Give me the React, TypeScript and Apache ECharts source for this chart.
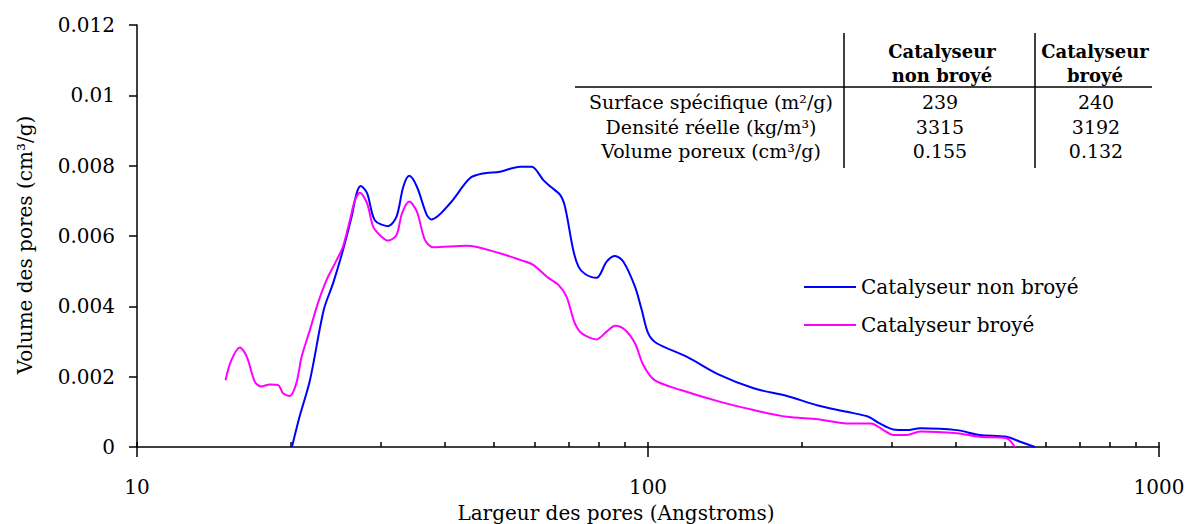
import React, { useEffect, useRef } from "react";
import * as echarts from "echarts";

const FONT = "DejaVu Serif";

const seriesNames = ["Catalyseur non broyé", "Catalyseur broyé"];

const blueX = [20.1, 20.8, 21.8, 23.2, 24.2, 25.3, 26.3, 26.9, 27.4, 28.2, 29.2, 31.0, 32.2, 33.2, 34.1, 35.3, 36.9, 37.7, 41.0, 44.8, 47.6, 51.3, 56.2, 59.2, 62.4, 64.5, 67.3, 68.8, 71.4, 73.1, 75.3, 79.3, 83.0, 86.2, 89.5, 94.3, 97.2, 100.1, 104, 119, 138, 161, 187, 215, 245, 270, 284, 302, 321, 341, 402, 446, 503, 535, 572];
const blueY = [0, 0.00086, 0.0019, 0.0039, 0.00466, 0.0056, 0.00655, 0.00721, 0.00742, 0.00722, 0.00645, 0.00628, 0.00655, 0.0074, 0.00771, 0.0074, 0.0066, 0.00647, 0.00693, 0.00764, 0.00778, 0.00783, 0.00797, 0.00797, 0.00759, 0.0074, 0.00717, 0.00683, 0.0056, 0.00513, 0.00492, 0.00481, 0.00527, 0.00543, 0.00527, 0.00456, 0.0039, 0.00323, 0.00295, 0.00257, 0.00205, 0.00167, 0.00145, 0.00118, 0.001, 0.00086, 0.00067, 0.0005, 0.00048, 0.00053, 0.00048, 0.00034, 0.00029, 0.00015, 0];

const pinkX = [14.9, 15.3, 15.9, 16.4, 17.0, 17.5, 18.2, 18.9, 19.3, 19.9, 20.5, 21.0, 21.8, 22.6, 23.5, 24.6, 25.3, 26.1, 26.7, 27.3, 28.2, 29.0, 30.1, 31.0, 32.2, 33.0, 34.1, 35.3, 36.6, 38.0, 44.2, 51.3, 56.2, 59.6, 63.4, 66.8, 69.3, 71.9, 74.2, 79.3, 83.0, 86.2, 90.2, 94.3, 97.9, 103, 116, 138, 161, 187, 215, 245, 273, 289, 302, 321, 341, 402, 446, 503, 522];
const pinkY = [0.0019, 0.00247, 0.00283, 0.00257, 0.00186, 0.00172, 0.00178, 0.00176, 0.00153, 0.00145, 0.00181, 0.00257, 0.00333, 0.00409, 0.00475, 0.00532, 0.0057, 0.00645, 0.00702, 0.00723, 0.00693, 0.00626, 0.00598, 0.00587, 0.00603, 0.00664, 0.00698, 0.00669, 0.00589, 0.00568, 0.00572, 0.00551, 0.00532, 0.00518, 0.00484, 0.00461, 0.00427, 0.00352, 0.00323, 0.00306, 0.00328, 0.00345, 0.00333, 0.00295, 0.00233, 0.0019, 0.00162, 0.00129, 0.00105, 0.00086, 0.00079, 0.00067, 0.00067, 0.00048, 0.00034, 0.00034, 0.00044, 0.00039, 0.00029, 0.00025, 0];

const majorTicks = [10, 100, 1000];
const minorTicks = [10, 20, 30, 40, 50, 60, 70, 80, 90, 100, 200, 300, 400, 500, 600, 700, 800, 900, 1000];

const tableHeaders = [["Catalyseur", "non broyé"], ["Catalyseur", "broyé"]];
const tableRowLabels = ["Surface spécifique (m²/g)", "Densité réelle (kg/m³)", "Volume poreux (cm³/g)"];
const tableCol1 = ["239", "3315", "0.155"];
const tableCol2 = ["240", "3192", "0.132"];

const xTitle = "Largeur des pores (Angstroms)";
const yTitle = "Volume des pores (cm³/g)";

export default function App() {
  const ref = useRef<HTMLDivElement>(null);
  useEffect(() => {
    if (!ref.current) return;
    const chart = echarts.init(ref.current, null, { renderer: "svg" });
    const txt = (text: string, x: number, y: number, opts: any = {}) => ({
      type: "text",
      x,
      y,
      rotation: opts.rotation || 0,
      style: {
        text,
        fontFamily: FONT,
        fontSize: opts.fontSize || 19,
        fontWeight: opts.fontWeight || "normal",
        fill: "#000",
        align: opts.align || "center",
        verticalAlign: "middle",
      },
    });
    const ln = (x1: number, y1: number, x2: number, y2: number) => ({
      type: "line",
      shape: { x1, y1, x2, y2 },
      style: { stroke: "#000", lineWidth: 1.5 },
    });
    const rowY = [102, 127, 151];
    const graphic: any[] = [
      ln(575, 87, 1152, 87),
      ln(844, 33, 844, 168),
      ln(1035, 33, 1035, 168),
      txt(tableHeaders[0][0], 942, 51, { fontWeight: "bold", fontSize: 18 }),
      txt(tableHeaders[0][1], 942, 75, { fontWeight: "bold", fontSize: 18 }),
      txt(tableHeaders[1][0], 1095, 51, { fontWeight: "bold", fontSize: 18 }),
      txt(tableHeaders[1][1], 1095, 75, { fontWeight: "bold", fontSize: 18 }),
      ...tableRowLabels.map((t, i) => txt(t, 711, rowY[i])),
      ...tableCol1.map((t, i) => txt(t, 940, rowY[i])),
      ...tableCol2.map((t, i) => txt(t, 1096, rowY[i])),
      txt(xTitle, 616, 513, { fontSize: 20 }),
      txt(yTitle, 25, 245, { fontSize: 20, rotation: Math.PI / 2 }),
    ];

    chart.setOption({
      animation: false,
      textStyle: { fontFamily: FONT, color: "#000" },
      grid: { left: 137, right: 30, top: 25, bottom: 77, containLabel: false },
      legend: {
        orient: "vertical",
        left: 799,
        top: 272,
        itemWidth: 52,
        itemHeight: 2,
        itemGap: 18,
        icon: "rect",
        textStyle: { fontFamily: FONT, fontSize: 20, color: "#000", lineHeight: 20 },
        data: seriesNames,
      },
      xAxis: [
        {
          type: "log",
          logBase: 10,
          min: 10,
          max: 1000,
          position: "bottom",
          axisLine: { lineStyle: { color: "#000", width: 1.5 } },
          axisTick: { show: true, inside: false, length: 10, customValues: majorTicks, lineStyle: { color: "#000", width: 1.5 } },
          axisLabel: {
            customValues: majorTicks,
            margin: 30,
            fontSize: 20,
            fontFamily: FONT,
            color: "#000",
            formatter: (v: number) => String(v),
          },
          splitLine: { show: false },
        },
        {
          type: "log",
          logBase: 10,
          min: 10,
          max: 1000,
          position: "bottom",
          axisLine: { show: false },
          axisTick: { show: true, inside: true, length: 5, customValues: minorTicks, lineStyle: { color: "#000", width: 1.5 } },
          axisLabel: { show: false },
          splitLine: { show: false },
        },
      ],
      yAxis: {
        type: "value",
        min: 0,
        max: 0.012,
        interval: 0.002,
        axisLine: { show: true, lineStyle: { color: "#000", width: 1.5 } },
        axisTick: { show: true, inside: false, length: 8, lineStyle: { color: "#000", width: 1.5 } },
        axisLabel: { margin: 22, fontSize: 20, fontFamily: FONT, color: "#000" },
        splitLine: { show: false },
      },
      series: [
        {
          name: seriesNames[0],
          type: "line",
          xAxisIndex: 0,
          data: blueX.map((x, i) => [x, blueY[i]]),
          showSymbol: false,
          symbol: "none",
          smooth: 0.3,
          itemStyle: { color: "#0000FF" },
          lineStyle: { color: "#0000FF", width: 2 },
        },
        {
          name: seriesNames[1],
          type: "line",
          xAxisIndex: 0,
          data: pinkX.map((x, i) => [x, pinkY[i]]),
          showSymbol: false,
          symbol: "none",
          smooth: 0.3,
          itemStyle: { color: "#FF00FF" },
          lineStyle: { color: "#FF00FF", width: 2 },
        },
      ],
      graphic,
    });
    return () => chart.dispose();
  }, []);
  return (
    <div
      ref={ref}
      style={{ position: "absolute", left: 0, top: 0, width: 1189, height: 524, background: "#fff" }}
    />
  );
}
